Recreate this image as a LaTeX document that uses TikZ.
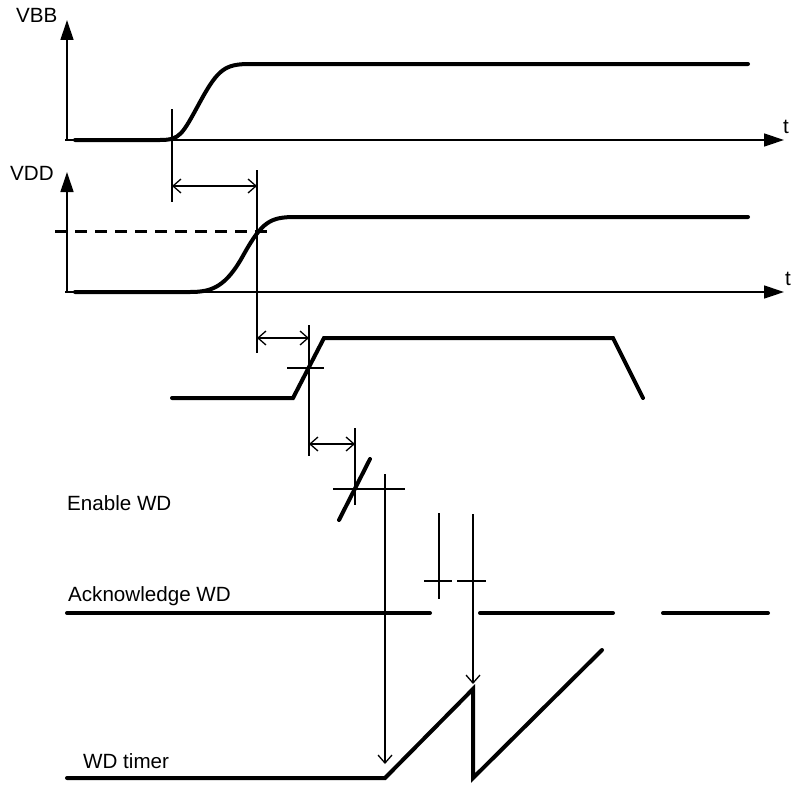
\documentclass[tikz,border=0pt]{standalone}
\usepackage{fontspec}
\setmainfont{Liberation Sans}
\usetikzlibrary{arrows.meta}
\begin{document}
\begin{tikzpicture}[x=1pt,y=-1pt,
  thin line/.style={line width=1.3pt},
  sig/.style={line width=4pt,line cap=round},
  axis/.style={thin line,-{Triangle[length=20pt,width=13pt]}},
  dim/.style={thin line,{Straight Barb[length=8pt,width=14pt]}-{Straight Barb[length=8pt,width=14pt]}},
  down/.style={thin line,-{Straight Barb[length=8pt,width=14pt]}},
  lbl/.style={anchor=base west,inner sep=0pt,font=\fontsize{20.6}{23}\selectfont}]
\useasboundingbox (0,0) rectangle (791,784);
% ---- VBB axes
\coordinate (o1) at (67,140);
\draw[axis] (o1) -- (67,20);
\draw[axis] (65,140) -- (784,140);
\node[lbl] (vbb) at (16,23) {VBB};
\node[lbl] (t1) at (783,133) {t};
\draw[sig] (75,140) -- (160,140) .. controls (180,140) and (182,135) .. (200,102)
  .. controls (218,69) and (225,64) .. (250,64) -- (748,64);
% ---- VDD axes
\draw[axis] (67,292) -- (67,172);
\draw[axis] (65,292) -- (784,292);
\node[lbl] (vdd) at (10,180) {VDD};
\node[lbl] (t2) at (785,285) {t};
\draw[sig] (75,292) -- (190,292) .. controls (212,292) and (226,287) .. (244,254)
  .. controls (262,222) and (270,217) .. (295,217) -- (748,217);
\draw[line width=3pt,dash pattern=on 12pt off 8pt] (55,231) -- (272,231);
% ---- delays
\coordinate (m1t) at (172,109); \coordinate (m1b) at (172,202);
\draw[thin line] (m1t) -- (m1b);
\coordinate (m2t) at (257,170); \coordinate (m2b) at (257,353);
\draw[thin line] (m2t) -- (m2b);
\draw[dim] (172,186) -- (257,186);
% ---- signal 3
\draw[sig] (172,398) -- (293,398) -- (324,338) -- (613,338) -- (643,398);
\draw[thin line] (309,325) -- (309,456);
\draw[thin line] (287,368) -- (324,368);
\draw[dim] (257,338) -- (309,338);
\draw[dim] (309,444) -- (355,444);
\draw[thin line] (355,428) -- (355,505);
% ---- Enable WD
\node[lbl] (en) at (67,510) {Enable WD};
\draw[sig] (339,520) -- (370,459);
\draw[thin line] (333,489) -- (405,489);
\draw[down] (385,474) -- (385,764);
% ---- Acknowledge WD
\node[lbl] (ack) at (68,601) {Acknowledge WD};
\draw[sig] (67,613) -- (430,613);
\draw[sig] (480,613) -- (613,613);
\draw[sig] (663,613) -- (768,613);
\draw[thin line] (439,513) -- (439,599);
\draw[thin line] (424,581) -- (452,581);
\draw[thin line] (457,581) -- (486,581);
\draw[down] (473,514) -- (473,684);
% ---- WD timer
\node[lbl] (wdt) at (83,768) {WD timer};
\draw[sig] (67,778) -- (385,778) -- (473,689) -- (473,778) -- (602,650);
\end{tikzpicture}
\end{document}
